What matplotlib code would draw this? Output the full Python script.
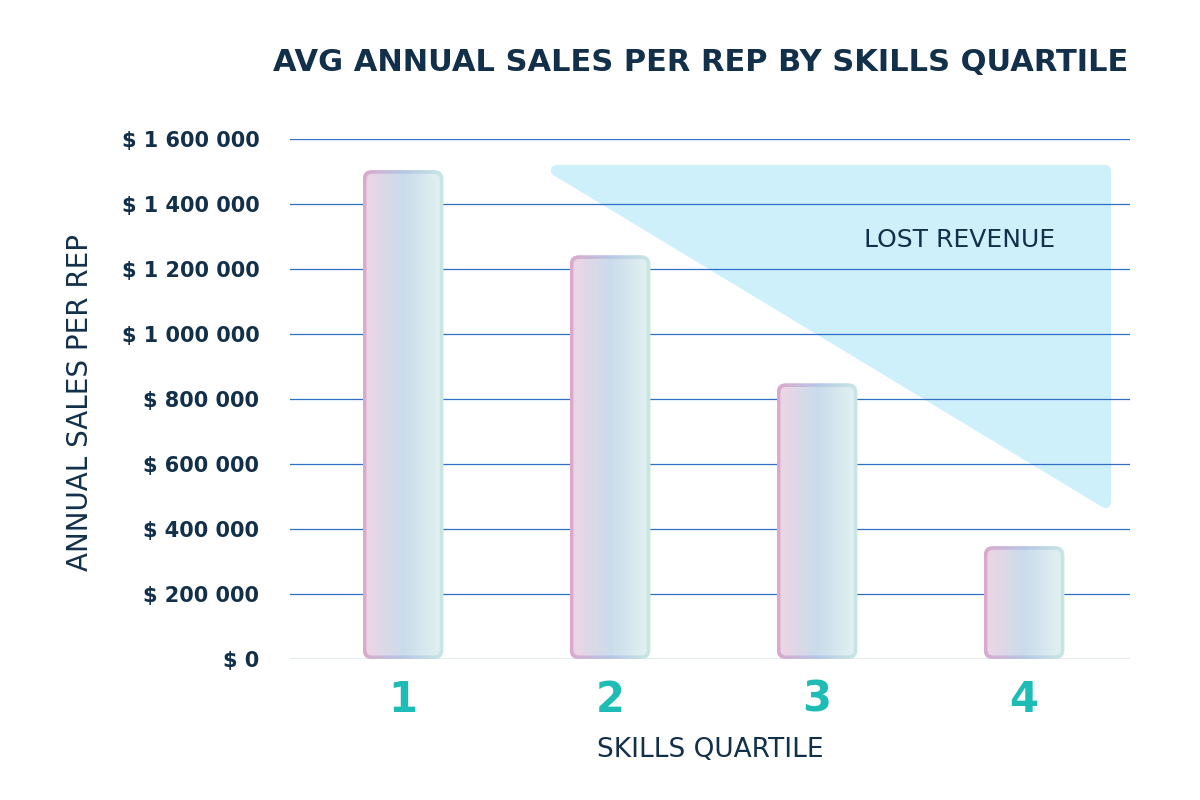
import numpy as np
import matplotlib
matplotlib.use("Agg")
import matplotlib.pyplot as plt
from matplotlib.patches import FancyBboxPatch, Polygon
from matplotlib.colors import LinearSegmentedColormap

# Data
quartiles = ["1", "2", "3", "4"]
sales = [1505000, 1243000, 849000, 348000]
y_ticks = [0, 200000, 400000, 600000, 800000, 1000000, 1200000, 1400000, 1600000]
lost_x = [1.74, 4.39, 4.39]
lost_y = [1505000, 1505000, 485000]

NAVY = "#13304a"
TEAL = "#1dbdb6"
FONT = "DejaVu Sans"

def fmt(v):
    return "$ " + f"{v:,}".replace(",", " ")

fig = plt.figure(figsize=(12, 8), dpi=100)
ax = fig.add_axes([0.2417, 0.176, 0.7, 0.65])
ax.set_xlim(0.454, 4.512)
ax.set_ylim(0, 1600000)

# grid lines
for t in y_ticks:
    ax.axhline(t, color="#2f6fc4", lw=0.9, zorder=1)

# lost revenue triangle
tri = Polygon(list(zip(lost_x, lost_y)), closed=True, facecolor="#cdf0fb",
              edgecolor="#cdf0fb", lw=8, joinstyle="round", zorder=0.5)
ax.add_patch(tri)
ax.text(3.69, 1290000, "LOST REVENUE", fontsize=18, color=NAVY,
        fontfamily=FONT, ha="center", va="center")

# bars with gradient fill and gradient outline
aspect = (1e6 / 325) / (1 / 207)
outer = LinearSegmentedColormap.from_list("o", ["#dba9cc", "#b6c8e6", "#c8e8e4"])
inner = LinearSegmentedColormap.from_list("i", ["#f0d4e4", "#cadcec", "#e4f3f1"])
grad = np.linspace(0, 1, 256).reshape(1, -1)
w = 0.39
for i, v in enumerate(sales):
    x = i + 1
    r = 0.045
    box = FancyBboxPatch((x - w / 2 + r, r * aspect), w - 2 * r, v - 2 * r * aspect,
                         boxstyle=f"round,pad={r},rounding_size={r}",
                         mutation_aspect=aspect, fc="none", ec="none")
    ax.add_patch(box)
    im = ax.imshow(grad, cmap=outer, extent=[x - w / 2, x + w / 2, 0, v],
                   aspect="auto", zorder=2)
    im.set_clip_path(box)
    d = 0.018
    box2 = FancyBboxPatch((x - w / 2 + r, r * aspect), w - 2 * r, v - 2 * r * aspect,
                          boxstyle=f"round,pad={r - d},rounding_size={r - d}",
                          mutation_aspect=aspect, fc="none", ec="none")
    ax.add_patch(box2)
    im2 = ax.imshow(grad, cmap=inner, extent=[x - w / 2, x + w / 2, 0, v],
                    aspect="auto", zorder=3)
    im2.set_clip_path(box2)

ax.set_xlim(0.454, 4.512)
ax.set_ylim(0, 1600000)

for s in ax.spines.values():
    s.set_visible(False)
ax.set_yticks(y_ticks)
ax.set_yticklabels([fmt(t) for t in y_ticks], fontsize=15, color=NAVY,
                   fontfamily=FONT, fontweight="semibold")
ax.set_xticks([1, 2, 3, 4])
ax.set_xticklabels(quartiles, fontsize=30, color=TEAL, fontfamily=FONT,
                   fontweight="bold")
ax.tick_params(length=0)
ax.tick_params(axis="y", pad=22)
ax.tick_params(axis="x", pad=14)

ax.set_xlabel("SKILLS QUARTILE", fontsize=19, color=NAVY, fontfamily=FONT,
              labelpad=12)
fig.text(0.067, 0.497, "ANNUAL SALES PER REP", rotation=90, fontsize=20, color=NAVY,
         fontfamily=FONT, ha="center", va="center")
fig.text(0.94, 0.922, "AVG ANNUAL SALES PER REP BY SKILLS QUARTILE", fontsize=22,
         color=NAVY, fontfamily=FONT, fontweight="heavy", ha="right", va="center")

fig.savefig("out.png", dpi=100)
